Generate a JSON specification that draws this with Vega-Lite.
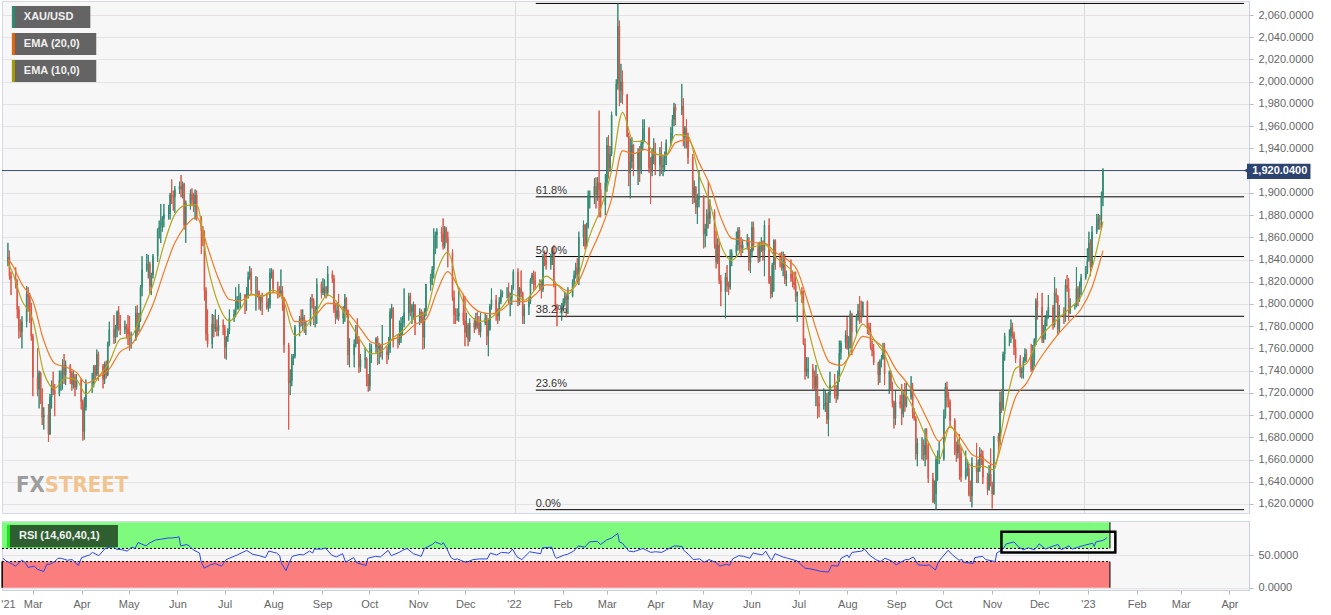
{
  "$schema": "https://vega.github.io/schema/vega-lite/v6.json",
  "padding": 0,
  "background": "#ffffff",
  "spacing": 6,
  "config": {
    "font": "Liberation Sans",
    "view": {"stroke": "#d2d8e8", "fill": "#f7f7f7"},
    "axis": {
      "labelFont": "Liberation Sans",
      "labelFontSize": 11,
      "labelColor": "#666666",
      "labelOverlap": false,
      "tickColor": "#b4bacb",
      "tickSize": 4,
      "domainColor": "#c9cfe0",
      "gridColor": "#e3e3e3"
    }
  },
  "datasets": {
    "fib": [
      {"p": 1614.9, "t": "0.0%"},
      {"p": 1722.4, "t": "23.6%"},
      {"p": 1788.9, "t": "38.2%"},
      {"p": 1842.65, "t": "50.0%"},
      {"p": 1896.4, "t": "61.8%"},
      {"p": 2070.4, "t": ""}
    ],
    "px": [
      {"d":"2021-02-10","o":1838,"h":1855,"l":1834,"c":1842},
      {"d":"2021-02-11","o":1842,"h":1848,"l":1822,"c":1825},
      {"d":"2021-02-12","o":1825,"h":1829,"l":1808,"c":1823},
      {"d":"2021-02-15","o":1823,"h":1833,"l":1814,"c":1818},
      {"d":"2021-02-16","o":1818,"h":1822,"l":1787,"c":1795},
      {"d":"2021-02-17","o":1795,"h":1798,"l":1769,"c":1776},
      {"d":"2021-02-18","o":1776,"h":1786,"l":1770,"c":1775},
      {"d":"2021-02-19","o":1775,"h":1789,"l":1760,"c":1784},
      {"d":"2021-02-22","o":1784,"h":1816,"l":1779,"c":1809},
      {"d":"2021-02-23","o":1809,"h":1815,"l":1793,"c":1806},
      {"d":"2021-02-24","o":1806,"h":1810,"l":1783,"c":1797},
      {"d":"2021-02-25","o":1797,"h":1801,"l":1767,"c":1771},
      {"d":"2021-02-26","o":1771,"h":1773,"l":1717,"c":1734},
      {"d":"2021-03-01","o":1734,"h":1760,"l":1717,"c":1723},
      {"d":"2021-03-02","o":1723,"h":1740,"l":1706,"c":1738},
      {"d":"2021-03-03","o":1738,"h":1739,"l":1710,"c":1712},
      {"d":"2021-03-04","o":1712,"h":1724,"l":1691,"c":1698},
      {"d":"2021-03-05","o":1698,"h":1707,"l":1687,"c":1700},
      {"d":"2021-03-08","o":1700,"h":1710,"l":1676,"c":1683},
      {"d":"2021-03-09","o":1683,"h":1719,"l":1682,"c":1716},
      {"d":"2021-03-10","o":1716,"h":1731,"l":1706,"c":1726},
      {"d":"2021-03-11","o":1726,"h":1739,"l":1718,"c":1722},
      {"d":"2021-03-12","o":1722,"h":1728,"l":1699,"c":1719},
      {"d":"2021-03-15","o":1719,"h":1740,"l":1717,"c":1731},
      {"d":"2021-03-16","o":1731,"h":1740,"l":1722,"c":1731},
      {"d":"2021-03-17","o":1731,"h":1750,"l":1723,"c":1745},
      {"d":"2021-03-18","o":1745,"h":1755,"l":1728,"c":1736},
      {"d":"2021-03-19","o":1736,"h":1749,"l":1727,"c":1745},
      {"d":"2021-03-22","o":1745,"h":1746,"l":1728,"c":1738},
      {"d":"2021-03-23","o":1738,"h":1740,"l":1722,"c":1727},
      {"d":"2021-03-24","o":1727,"h":1740,"l":1724,"c":1734},
      {"d":"2021-03-25","o":1734,"h":1737,"l":1717,"c":1725},
      {"d":"2021-03-26","o":1725,"h":1737,"l":1723,"c":1732},
      {"d":"2021-03-29","o":1732,"h":1733,"l":1705,"c":1712},
      {"d":"2021-03-30","o":1712,"h":1714,"l":1677,"c":1685},
      {"d":"2021-03-31","o":1685,"h":1716,"l":1678,"c":1707},
      {"d":"2021-04-01","o":1707,"h":1732,"l":1704,"c":1728},
      {"d":"2021-04-05","o":1728,"h":1738,"l":1720,"c":1728},
      {"d":"2021-04-06","o":1728,"h":1745,"l":1725,"c":1744},
      {"d":"2021-04-07","o":1744,"h":1745,"l":1732,"c":1737},
      {"d":"2021-04-08","o":1737,"h":1759,"l":1735,"c":1755},
      {"d":"2021-04-09","o":1755,"h":1757,"l":1731,"c":1744},
      {"d":"2021-04-12","o":1744,"h":1746,"l":1724,"c":1732},
      {"d":"2021-04-13","o":1732,"h":1748,"l":1728,"c":1746},
      {"d":"2021-04-14","o":1746,"h":1749,"l":1733,"c":1736},
      {"d":"2021-04-15","o":1736,"h":1766,"l":1735,"c":1764},
      {"d":"2021-04-16","o":1764,"h":1784,"l":1762,"c":1777},
      {"d":"2021-04-19","o":1777,"h":1790,"l":1764,"c":1770},
      {"d":"2021-04-20","o":1770,"h":1781,"l":1765,"c":1778},
      {"d":"2021-04-21","o":1778,"h":1794,"l":1770,"c":1793},
      {"d":"2021-04-22","o":1793,"h":1798,"l":1776,"c":1782},
      {"d":"2021-04-23","o":1782,"h":1790,"l":1772,"c":1777},
      {"d":"2021-04-26","o":1777,"h":1785,"l":1773,"c":1780},
      {"d":"2021-04-27","o":1780,"h":1782,"l":1769,"c":1778},
      {"d":"2021-04-28","o":1778,"h":1790,"l":1763,"c":1773},
      {"d":"2021-04-29","o":1773,"h":1789,"l":1758,"c":1768},
      {"d":"2021-04-30","o":1768,"h":1775,"l":1760,"c":1768},
      {"d":"2021-05-03","o":1768,"h":1798,"l":1767,"c":1792},
      {"d":"2021-05-04","o":1792,"h":1799,"l":1771,"c":1779},
      {"d":"2021-05-05","o":1779,"h":1792,"l":1775,"c":1785},
      {"d":"2021-05-06","o":1785,"h":1817,"l":1784,"c":1815},
      {"d":"2021-05-07","o":1815,"h":1843,"l":1807,"c":1831},
      {"d":"2021-05-10","o":1831,"h":1845,"l":1829,"c":1836},
      {"d":"2021-05-11","o":1836,"h":1844,"l":1823,"c":1836},
      {"d":"2021-05-12","o":1836,"h":1838,"l":1809,"c":1816},
      {"d":"2021-05-13","o":1816,"h":1828,"l":1808,"c":1826},
      {"d":"2021-05-14","o":1826,"h":1845,"l":1823,"c":1843},
      {"d":"2021-05-17","o":1843,"h":1868,"l":1838,"c":1867},
      {"d":"2021-05-18","o":1867,"h":1875,"l":1859,"c":1869},
      {"d":"2021-05-19","o":1869,"h":1890,"l":1855,"c":1869},
      {"d":"2021-05-20","o":1869,"h":1879,"l":1865,"c":1877},
      {"d":"2021-05-21","o":1877,"h":1890,"l":1869,"c":1881},
      {"d":"2021-05-24","o":1881,"h":1889,"l":1876,"c":1881},
      {"d":"2021-05-25","o":1881,"h":1900,"l":1876,"c":1898},
      {"d":"2021-05-26","o":1898,"h":1912,"l":1890,"c":1897},
      {"d":"2021-05-27","o":1897,"h":1902,"l":1884,"c":1896},
      {"d":"2021-05-28","o":1896,"h":1906,"l":1882,"c":1903},
      {"d":"2021-05-31","o":1903,"h":1910,"l":1899,"c":1906},
      {"d":"2021-06-01","o":1906,"h":1916,"l":1896,"c":1903},
      {"d":"2021-06-02","o":1903,"h":1910,"l":1895,"c":1908},
      {"d":"2021-06-03","o":1908,"h":1909,"l":1867,"c":1871},
      {"d":"2021-06-04","o":1871,"h":1893,"l":1855,"c":1891},
      {"d":"2021-06-07","o":1891,"h":1903,"l":1885,"c":1899},
      {"d":"2021-06-08","o":1899,"h":1904,"l":1888,"c":1893},
      {"d":"2021-06-09","o":1893,"h":1900,"l":1883,"c":1888},
      {"d":"2021-06-10","o":1888,"h":1903,"l":1876,"c":1898},
      {"d":"2021-06-11","o":1898,"h":1902,"l":1875,"c":1877},
      {"d":"2021-06-14","o":1877,"h":1879,"l":1845,"c":1866},
      {"d":"2021-06-15","o":1866,"h":1870,"l":1852,"c":1859},
      {"d":"2021-06-16","o":1859,"h":1866,"l":1803,"c":1812},
      {"d":"2021-06-17","o":1812,"h":1815,"l":1767,"c":1773},
      {"d":"2021-06-18","o":1773,"h":1795,"l":1761,"c":1764},
      {"d":"2021-06-21","o":1764,"h":1791,"l":1760,"c":1782},
      {"d":"2021-06-22","o":1782,"h":1790,"l":1770,"c":1778},
      {"d":"2021-06-23","o":1778,"h":1795,"l":1775,"c":1779},
      {"d":"2021-06-24","o":1779,"h":1786,"l":1771,"c":1776},
      {"d":"2021-06-25","o":1776,"h":1790,"l":1771,"c":1781},
      {"d":"2021-06-28","o":1781,"h":1786,"l":1772,"c":1779},
      {"d":"2021-06-29","o":1779,"h":1781,"l":1751,"c":1761},
      {"d":"2021-06-30","o":1761,"h":1771,"l":1750,"c":1770},
      {"d":"2021-07-01","o":1770,"h":1778,"l":1766,"c":1776},
      {"d":"2021-07-02","o":1776,"h":1795,"l":1773,"c":1787},
      {"d":"2021-07-05","o":1787,"h":1795,"l":1784,"c":1791},
      {"d":"2021-07-06","o":1791,"h":1815,"l":1788,"c":1796},
      {"d":"2021-07-07","o":1796,"h":1807,"l":1795,"c":1803},
      {"d":"2021-07-08","o":1803,"h":1818,"l":1795,"c":1803},
      {"d":"2021-07-09","o":1803,"h":1810,"l":1796,"c":1808},
      {"d":"2021-07-12","o":1808,"h":1809,"l":1791,"c":1805},
      {"d":"2021-07-13","o":1805,"h":1815,"l":1794,"c":1808},
      {"d":"2021-07-14","o":1808,"h":1829,"l":1805,"c":1824},
      {"d":"2021-07-15","o":1824,"h":1834,"l":1822,"c":1829},
      {"d":"2021-07-16","o":1829,"h":1832,"l":1809,"c":1812},
      {"d":"2021-07-19","o":1812,"h":1825,"l":1794,"c":1812},
      {"d":"2021-07-20","o":1812,"h":1824,"l":1806,"c":1810},
      {"d":"2021-07-21","o":1810,"h":1812,"l":1795,"c":1803},
      {"d":"2021-07-22","o":1803,"h":1808,"l":1794,"c":1806},
      {"d":"2021-07-23","o":1806,"h":1810,"l":1790,"c":1802},
      {"d":"2021-07-26","o":1802,"h":1810,"l":1795,"c":1797},
      {"d":"2021-07-27","o":1797,"h":1805,"l":1793,"c":1799},
      {"d":"2021-07-28","o":1799,"h":1832,"l":1796,"c":1828},
      {"d":"2021-07-29","o":1828,"h":1832,"l":1823,"c":1829},
      {"d":"2021-07-30","o":1829,"h":1831,"l":1810,"c":1814},
      {"d":"2021-08-02","o":1814,"h":1820,"l":1805,"c":1813},
      {"d":"2021-08-03","o":1813,"h":1816,"l":1806,"c":1810},
      {"d":"2021-08-04","o":1810,"h":1831,"l":1808,"c":1812},
      {"d":"2021-08-05","o":1812,"h":1816,"l":1794,"c":1804},
      {"d":"2021-08-06","o":1804,"h":1806,"l":1756,"c":1763},
      {"d":"2021-08-09","o":1763,"h":1765,"l":1687,"c":1729},
      {"d":"2021-08-10","o":1729,"h":1741,"l":1718,"c":1731},
      {"d":"2021-08-11","o":1731,"h":1755,"l":1726,"c":1752},
      {"d":"2021-08-12","o":1752,"h":1755,"l":1745,"c":1753},
      {"d":"2021-08-13","o":1753,"h":1781,"l":1751,"c":1779},
      {"d":"2021-08-16","o":1779,"h":1789,"l":1771,"c":1787},
      {"d":"2021-08-17","o":1787,"h":1795,"l":1780,"c":1786},
      {"d":"2021-08-18","o":1786,"h":1795,"l":1777,"c":1788},
      {"d":"2021-08-19","o":1788,"h":1790,"l":1774,"c":1781},
      {"d":"2021-08-20","o":1781,"h":1785,"l":1772,"c":1781},
      {"d":"2021-08-23","o":1781,"h":1806,"l":1780,"c":1805},
      {"d":"2021-08-24","o":1805,"h":1809,"l":1796,"c":1803},
      {"d":"2021-08-25","o":1803,"h":1805,"l":1781,"c":1790},
      {"d":"2021-08-26","o":1790,"h":1798,"l":1779,"c":1792},
      {"d":"2021-08-27","o":1792,"h":1823,"l":1782,"c":1818},
      {"d":"2021-08-30","o":1818,"h":1820,"l":1805,"c":1810},
      {"d":"2021-08-31","o":1810,"h":1823,"l":1808,"c":1814},
      {"d":"2021-09-01","o":1814,"h":1822,"l":1806,"c":1815},
      {"d":"2021-09-02","o":1815,"h":1816,"l":1805,"c":1810},
      {"d":"2021-09-03","o":1810,"h":1834,"l":1807,"c":1827},
      {"d":"2021-09-06","o":1827,"h":1830,"l":1819,"c":1823},
      {"d":"2021-09-07","o":1823,"h":1826,"l":1792,"c":1795},
      {"d":"2021-09-08","o":1795,"h":1801,"l":1782,"c":1788},
      {"d":"2021-09-09","o":1788,"h":1801,"l":1786,"c":1794},
      {"d":"2021-09-10","o":1794,"h":1809,"l":1785,"c":1787},
      {"d":"2021-09-13","o":1787,"h":1798,"l":1782,"c":1794},
      {"d":"2021-09-14","o":1794,"h":1809,"l":1784,"c":1805},
      {"d":"2021-09-15","o":1805,"h":1806,"l":1790,"c":1794},
      {"d":"2021-09-16","o":1794,"h":1795,"l":1745,"c":1754},
      {"d":"2021-09-17","o":1754,"h":1769,"l":1743,"c":1754},
      {"d":"2021-09-20","o":1754,"h":1768,"l":1743,"c":1764},
      {"d":"2021-09-21","o":1764,"h":1781,"l":1761,"c":1774},
      {"d":"2021-09-22","o":1774,"h":1787,"l":1764,"c":1768},
      {"d":"2021-09-23","o":1768,"h":1771,"l":1738,"c":1743},
      {"d":"2021-09-24","o":1743,"h":1755,"l":1739,"c":1750},
      {"d":"2021-09-27","o":1750,"h":1761,"l":1742,"c":1751},
      {"d":"2021-09-28","o":1751,"h":1752,"l":1726,"c":1734},
      {"d":"2021-09-29","o":1734,"h":1737,"l":1721,"c":1726},
      {"d":"2021-09-30","o":1726,"h":1765,"l":1722,"c":1757},
      {"d":"2021-10-01","o":1757,"h":1764,"l":1747,"c":1761},
      {"d":"2021-10-04","o":1761,"h":1770,"l":1756,"c":1769},
      {"d":"2021-10-05","o":1769,"h":1771,"l":1745,"c":1760},
      {"d":"2021-10-06","o":1760,"h":1765,"l":1746,"c":1762},
      {"d":"2021-10-07","o":1762,"h":1764,"l":1752,"c":1756},
      {"d":"2021-10-08","o":1756,"h":1781,"l":1750,"c":1757},
      {"d":"2021-10-11","o":1757,"h":1762,"l":1746,"c":1754},
      {"d":"2021-10-12","o":1754,"h":1770,"l":1750,"c":1760},
      {"d":"2021-10-13","o":1760,"h":1796,"l":1756,"c":1793},
      {"d":"2021-10-14","o":1793,"h":1800,"l":1787,"c":1796},
      {"d":"2021-10-15","o":1796,"h":1797,"l":1761,"c":1767},
      {"d":"2021-10-18","o":1767,"h":1773,"l":1760,"c":1765},
      {"d":"2021-10-19","o":1765,"h":1785,"l":1763,"c":1769},
      {"d":"2021-10-20","o":1769,"h":1788,"l":1765,"c":1783},
      {"d":"2021-10-21","o":1783,"h":1789,"l":1772,"c":1783},
      {"d":"2021-10-22","o":1783,"h":1814,"l":1779,"c":1792},
      {"d":"2021-10-25","o":1792,"h":1810,"l":1785,"c":1807},
      {"d":"2021-10-26","o":1807,"h":1810,"l":1789,"c":1793},
      {"d":"2021-10-27","o":1793,"h":1800,"l":1782,"c":1798},
      {"d":"2021-10-28","o":1798,"h":1802,"l":1786,"c":1799},
      {"d":"2021-10-29","o":1799,"h":1800,"l":1772,"c":1783},
      {"d":"2021-11-01","o":1783,"h":1796,"l":1781,"c":1793},
      {"d":"2021-11-02","o":1793,"h":1795,"l":1783,"c":1787},
      {"d":"2021-11-03","o":1787,"h":1793,"l":1759,"c":1770},
      {"d":"2021-11-04","o":1770,"h":1796,"l":1760,"c":1792},
      {"d":"2021-11-05","o":1792,"h":1818,"l":1789,"c":1818},
      {"d":"2021-11-08","o":1818,"h":1827,"l":1812,"c":1824},
      {"d":"2021-11-09","o":1824,"h":1834,"l":1817,"c":1831},
      {"d":"2021-11-10","o":1831,"h":1868,"l":1823,"c":1849},
      {"d":"2021-11-11","o":1849,"h":1865,"l":1845,"c":1862},
      {"d":"2021-11-12","o":1862,"h":1868,"l":1850,"c":1865},
      {"d":"2021-11-15","o":1865,"h":1869,"l":1856,"c":1863},
      {"d":"2021-11-16","o":1863,"h":1877,"l":1849,"c":1852},
      {"d":"2021-11-17","o":1852,"h":1870,"l":1850,"c":1868},
      {"d":"2021-11-18","o":1868,"h":1869,"l":1855,"c":1860},
      {"d":"2021-11-19","o":1860,"h":1865,"l":1833,"c":1846},
      {"d":"2021-11-22","o":1846,"h":1849,"l":1803,"c":1806},
      {"d":"2021-11-23","o":1806,"h":1812,"l":1782,"c":1790},
      {"d":"2021-11-24","o":1790,"h":1796,"l":1782,"c":1789},
      {"d":"2021-11-25","o":1789,"h":1796,"l":1785,"c":1789},
      {"d":"2021-11-26","o":1789,"h":1815,"l":1784,"c":1792},
      {"d":"2021-11-29","o":1792,"h":1809,"l":1781,"c":1785},
      {"d":"2021-11-30","o":1785,"h":1807,"l":1762,"c":1774},
      {"d":"2021-12-01","o":1774,"h":1792,"l":1770,"c":1781},
      {"d":"2021-12-02","o":1781,"h":1783,"l":1762,"c":1768},
      {"d":"2021-12-03","o":1768,"h":1787,"l":1766,"c":1783},
      {"d":"2021-12-06","o":1783,"h":1787,"l":1774,"c":1779},
      {"d":"2021-12-07","o":1779,"h":1792,"l":1777,"c":1785},
      {"d":"2021-12-08","o":1785,"h":1793,"l":1778,"c":1783},
      {"d":"2021-12-09","o":1783,"h":1789,"l":1772,"c":1775},
      {"d":"2021-12-10","o":1775,"h":1792,"l":1770,"c":1783},
      {"d":"2021-12-13","o":1783,"h":1792,"l":1781,"c":1787},
      {"d":"2021-12-14","o":1787,"h":1790,"l":1763,"c":1771},
      {"d":"2021-12-15","o":1771,"h":1787,"l":1753,"c":1777},
      {"d":"2021-12-16","o":1777,"h":1800,"l":1776,"c":1798},
      {"d":"2021-12-17","o":1798,"h":1814,"l":1795,"c":1804},
      {"d":"2021-12-20","o":1804,"h":1808,"l":1785,"c":1791},
      {"d":"2021-12-21","o":1791,"h":1796,"l":1782,"c":1789},
      {"d":"2021-12-22","o":1789,"h":1806,"l":1785,"c":1802},
      {"d":"2021-12-23","o":1802,"h":1813,"l":1800,"c":1809},
      {"d":"2021-12-24","o":1809,"h":1812,"l":1806,"c":1811},
      {"d":"2021-12-27","o":1811,"h":1815,"l":1805,"c":1811},
      {"d":"2021-12-28","o":1811,"h":1819,"l":1800,"c":1805},
      {"d":"2021-12-29","o":1805,"h":1810,"l":1789,"c":1805},
      {"d":"2021-12-30","o":1805,"h":1817,"l":1799,"c":1815},
      {"d":"2021-12-31","o":1815,"h":1831,"l":1813,"c":1829},
      {"d":"2022-01-03","o":1829,"h":1832,"l":1798,"c":1801},
      {"d":"2022-01-04","o":1801,"h":1815,"l":1799,"c":1814},
      {"d":"2022-01-05","o":1814,"h":1830,"l":1806,"c":1810},
      {"d":"2022-01-06","o":1810,"h":1811,"l":1782,"c":1789},
      {"d":"2022-01-07","o":1789,"h":1800,"l":1782,"c":1797},
      {"d":"2022-01-10","o":1797,"h":1806,"l":1790,"c":1802},
      {"d":"2022-01-11","o":1802,"h":1823,"l":1800,"c":1822},
      {"d":"2022-01-12","o":1822,"h":1828,"l":1818,"c":1826},
      {"d":"2022-01-13","o":1826,"h":1830,"l":1812,"c":1821},
      {"d":"2022-01-14","o":1821,"h":1829,"l":1813,"c":1817},
      {"d":"2022-01-17","o":1817,"h":1822,"l":1812,"c":1818},
      {"d":"2022-01-18","o":1818,"h":1821,"l":1805,"c":1813},
      {"d":"2022-01-19","o":1813,"h":1845,"l":1811,"c":1843},
      {"d":"2022-01-20","o":1843,"h":1848,"l":1834,"c":1840},
      {"d":"2022-01-21","o":1840,"h":1847,"l":1831,"c":1835},
      {"d":"2022-01-24","o":1835,"h":1845,"l":1831,"c":1843},
      {"d":"2022-01-25","o":1843,"h":1851,"l":1835,"c":1848},
      {"d":"2022-01-26","o":1848,"h":1853,"l":1815,"c":1819},
      {"d":"2022-01-27","o":1819,"h":1820,"l":1794,"c":1797},
      {"d":"2022-01-28","o":1797,"h":1800,"l":1780,"c":1791},
      {"d":"2022-01-31","o":1791,"h":1801,"l":1785,"c":1797},
      {"d":"2022-02-01","o":1797,"h":1805,"l":1794,"c":1801},
      {"d":"2022-02-02","o":1801,"h":1811,"l":1799,"c":1807},
      {"d":"2022-02-03","o":1807,"h":1810,"l":1788,"c":1804},
      {"d":"2022-02-04","o":1804,"h":1815,"l":1791,"c":1807},
      {"d":"2022-02-07","o":1807,"h":1822,"l":1806,"c":1820},
      {"d":"2022-02-08","o":1820,"h":1830,"l":1816,"c":1826},
      {"d":"2022-02-09","o":1826,"h":1837,"l":1823,"c":1833},
      {"d":"2022-02-10","o":1833,"h":1841,"l":1819,"c":1827},
      {"d":"2022-02-11","o":1827,"h":1865,"l":1817,"c":1860},
      {"d":"2022-02-14","o":1860,"h":1875,"l":1852,"c":1871},
      {"d":"2022-02-15","o":1871,"h":1872,"l":1849,"c":1852},
      {"d":"2022-02-16","o":1852,"h":1873,"l":1851,"c":1870},
      {"d":"2022-02-17","o":1870,"h":1902,"l":1868,"c":1898},
      {"d":"2022-02-18","o":1898,"h":1902,"l":1886,"c":1898},
      {"d":"2022-02-21","o":1898,"h":1913,"l":1890,"c":1906},
      {"d":"2022-02-22","o":1906,"h":1914,"l":1886,"c":1898},
      {"d":"2022-02-23","o":1898,"h":1914,"l":1893,"c":1909},
      {"d":"2022-02-24","o":1909,"h":1974,"l":1878,"c":1903},
      {"d":"2022-02-25","o":1903,"h":1909,"l":1878,"c":1889},
      {"d":"2022-02-28","o":1889,"h":1917,"l":1880,"c":1909},
      {"d":"2022-03-01","o":1909,"h":1950,"l":1901,"c":1943},
      {"d":"2022-03-02","o":1943,"h":1952,"l":1913,"c":1922},
      {"d":"2022-03-03","o":1922,"h":1942,"l":1919,"c":1935},
      {"d":"2022-03-04","o":1935,"h":1973,"l":1933,"c":1970},
      {"d":"2022-03-07","o":1970,"h":2002,"l":1969,"c":1998},
      {"d":"2022-03-08","o":1998,"h":2070.4,"l":1993,"c":2050},
      {"d":"2022-03-09","o":2050,"h":2055,"l":1978,"c":1992},
      {"d":"2022-03-10","o":1992,"h":2016,"l":1981,"c":2000},
      {"d":"2022-03-11","o":2000,"h":2010,"l":1980,"c":1988},
      {"d":"2022-03-14","o":1988,"h":1989,"l":1950,"c":1951},
      {"d":"2022-03-15","o":1951,"h":1954,"l":1906,"c":1918},
      {"d":"2022-03-16","o":1918,"h":1949,"l":1895,"c":1928},
      {"d":"2022-03-17","o":1928,"h":1950,"l":1922,"c":1943},
      {"d":"2022-03-18","o":1943,"h":1944,"l":1915,"c":1921},
      {"d":"2022-03-21","o":1921,"h":1940,"l":1907,"c":1936},
      {"d":"2022-03-22","o":1936,"h":1942,"l":1910,"c":1921},
      {"d":"2022-03-23","o":1921,"h":1947,"l":1917,"c":1944},
      {"d":"2022-03-24","o":1944,"h":1966,"l":1938,"c":1958},
      {"d":"2022-03-25","o":1958,"h":1966,"l":1946,"c":1958},
      {"d":"2022-03-28","o":1958,"h":1959,"l":1918,"c":1922},
      {"d":"2022-03-29","o":1922,"h":1932,"l":1890,"c":1919},
      {"d":"2022-03-30","o":1919,"h":1940,"l":1915,"c":1933},
      {"d":"2022-03-31","o":1933,"h":1949,"l":1926,"c":1937},
      {"d":"2022-04-01","o":1937,"h":1945,"l":1916,"c":1925},
      {"d":"2022-04-04","o":1925,"h":1941,"l":1915,"c":1933},
      {"d":"2022-04-05","o":1933,"h":1946,"l":1917,"c":1923},
      {"d":"2022-04-06","o":1923,"h":1933,"l":1915,"c":1925},
      {"d":"2022-04-07","o":1925,"h":1937,"l":1919,"c":1931},
      {"d":"2022-04-08","o":1931,"h":1948,"l":1925,"c":1945},
      {"d":"2022-04-11","o":1945,"h":1959,"l":1942,"c":1954},
      {"d":"2022-04-12","o":1954,"h":1970,"l":1948,"c":1966},
      {"d":"2022-04-13","o":1966,"h":1981,"l":1960,"c":1977},
      {"d":"2022-04-14","o":1977,"h":1980,"l":1961,"c":1974},
      {"d":"2022-04-18","o":1974,"h":1998,"l":1970,"c":1978},
      {"d":"2022-04-19","o":1978,"h":1985,"l":1942,"c":1950},
      {"d":"2022-04-20","o":1950,"h":1960,"l":1940,"c":1958},
      {"d":"2022-04-21","o":1958,"h":1966,"l":1940,"c":1951},
      {"d":"2022-04-22","o":1951,"h":1954,"l":1926,"c":1932},
      {"d":"2022-04-25","o":1932,"h":1935,"l":1890,"c":1898},
      {"d":"2022-04-26","o":1898,"h":1911,"l":1891,"c":1905},
      {"d":"2022-04-27","o":1905,"h":1906,"l":1881,"c":1887},
      {"d":"2022-04-28","o":1887,"h":1899,"l":1872,"c":1894},
      {"d":"2022-04-29","o":1894,"h":1920,"l":1887,"c":1897},
      {"d":"2022-05-02","o":1897,"h":1898,"l":1850,"c":1863},
      {"d":"2022-05-03","o":1863,"h":1872,"l":1851,"c":1868},
      {"d":"2022-05-04","o":1868,"h":1885,"l":1861,"c":1881},
      {"d":"2022-05-05","o":1881,"h":1910,"l":1868,"c":1877},
      {"d":"2022-05-06","o":1877,"h":1894,"l":1872,"c":1883},
      {"d":"2022-05-09","o":1883,"h":1885,"l":1850,"c":1854},
      {"d":"2022-05-10","o":1854,"h":1866,"l":1832,"c":1838},
      {"d":"2022-05-11","o":1838,"h":1859,"l":1836,"c":1853},
      {"d":"2022-05-12","o":1853,"h":1858,"l":1818,"c":1821},
      {"d":"2022-05-13","o":1821,"h":1826,"l":1798,"c":1811},
      {"d":"2022-05-16","o":1811,"h":1828,"l":1787,"c":1824},
      {"d":"2022-05-17","o":1824,"h":1835,"l":1811,"c":1816},
      {"d":"2022-05-18","o":1816,"h":1820,"l":1808,"c":1815},
      {"d":"2022-05-19","o":1815,"h":1849,"l":1813,"c":1841},
      {"d":"2022-05-20","o":1841,"h":1849,"l":1834,"c":1846},
      {"d":"2022-05-23","o":1846,"h":1865,"l":1843,"c":1853},
      {"d":"2022-05-24","o":1853,"h":1869,"l":1848,"c":1866},
      {"d":"2022-05-25","o":1866,"h":1869,"l":1846,"c":1853},
      {"d":"2022-05-26","o":1853,"h":1860,"l":1843,"c":1850},
      {"d":"2022-05-27","o":1850,"h":1858,"l":1846,"c":1853},
      {"d":"2022-05-30","o":1853,"h":1863,"l":1849,"c":1856},
      {"d":"2022-05-31","o":1856,"h":1860,"l":1830,"c":1837},
      {"d":"2022-06-01","o":1837,"h":1849,"l":1828,"c":1847},
      {"d":"2022-06-02","o":1847,"h":1874,"l":1842,"c":1869},
      {"d":"2022-06-03","o":1869,"h":1874,"l":1848,"c":1851},
      {"d":"2022-06-06","o":1851,"h":1855,"l":1837,"c":1841},
      {"d":"2022-06-07","o":1841,"h":1856,"l":1838,"c":1852},
      {"d":"2022-06-08","o":1852,"h":1860,"l":1847,"c":1853},
      {"d":"2022-06-09","o":1853,"h":1857,"l":1839,"c":1848},
      {"d":"2022-06-10","o":1848,"h":1875,"l":1825,"c":1871},
      {"d":"2022-06-13","o":1871,"h":1877,"l":1818,"c":1819},
      {"d":"2022-06-14","o":1819,"h":1825,"l":1805,"c":1809},
      {"d":"2022-06-15","o":1809,"h":1837,"l":1806,"c":1835},
      {"d":"2022-06-16","o":1835,"h":1858,"l":1811,"c":1857},
      {"d":"2022-06-17","o":1857,"h":1858,"l":1831,"c":1840},
      {"d":"2022-06-20","o":1840,"h":1846,"l":1833,"c":1839},
      {"d":"2022-06-21","o":1839,"h":1847,"l":1830,"c":1832},
      {"d":"2022-06-22","o":1832,"h":1847,"l":1825,"c":1838},
      {"d":"2022-06-23","o":1838,"h":1845,"l":1818,"c":1822},
      {"d":"2022-06-24","o":1822,"h":1830,"l":1816,"c":1827},
      {"d":"2022-06-27","o":1827,"h":1840,"l":1820,"c":1823},
      {"d":"2022-06-28","o":1823,"h":1830,"l":1815,"c":1820},
      {"d":"2022-06-29","o":1820,"h":1829,"l":1813,"c":1817},
      {"d":"2022-06-30","o":1817,"h":1829,"l":1802,"c":1807},
      {"d":"2022-07-01","o":1807,"h":1811,"l":1784,"c":1811},
      {"d":"2022-07-04","o":1811,"h":1815,"l":1801,"c":1808},
      {"d":"2022-07-05","o":1808,"h":1812,"l":1763,"c":1764},
      {"d":"2022-07-06","o":1764,"h":1769,"l":1732,"c":1739},
      {"d":"2022-07-07","o":1739,"h":1752,"l":1735,"c":1740},
      {"d":"2022-07-08","o":1740,"h":1752,"l":1733,"c":1742},
      {"d":"2022-07-11","o":1742,"h":1746,"l":1723,"c":1734},
      {"d":"2022-07-12","o":1734,"h":1740,"l":1722,"c":1725},
      {"d":"2022-07-13","o":1725,"h":1745,"l":1708,"c":1735},
      {"d":"2022-07-14","o":1735,"h":1737,"l":1697,"c":1711},
      {"d":"2022-07-15","o":1711,"h":1717,"l":1698,"c":1708},
      {"d":"2022-07-18","o":1708,"h":1724,"l":1705,"c":1709},
      {"d":"2022-07-19","o":1709,"h":1722,"l":1703,"c":1711},
      {"d":"2022-07-20","o":1711,"h":1720,"l":1692,"c":1696},
      {"d":"2022-07-21","o":1696,"h":1721,"l":1681,"c":1718},
      {"d":"2022-07-22","o":1718,"h":1739,"l":1711,"c":1727},
      {"d":"2022-07-25","o":1727,"h":1737,"l":1715,"c":1719},
      {"d":"2022-07-26","o":1719,"h":1727,"l":1711,"c":1717},
      {"d":"2022-07-27","o":1717,"h":1740,"l":1714,"c":1734},
      {"d":"2022-07-28","o":1734,"h":1767,"l":1730,"c":1756},
      {"d":"2022-07-29","o":1756,"h":1767,"l":1750,"c":1765},
      {"d":"2022-08-01","o":1765,"h":1776,"l":1760,"c":1772},
      {"d":"2022-08-02","o":1772,"h":1788,"l":1759,"c":1760},
      {"d":"2022-08-03","o":1760,"h":1771,"l":1753,"c":1765},
      {"d":"2022-08-04","o":1765,"h":1794,"l":1760,"c":1791},
      {"d":"2022-08-05","o":1791,"h":1792,"l":1754,"c":1775},
      {"d":"2022-08-08","o":1775,"h":1791,"l":1772,"c":1789},
      {"d":"2022-08-09","o":1789,"h":1800,"l":1785,"c":1794},
      {"d":"2022-08-10","o":1794,"h":1807,"l":1782,"c":1792},
      {"d":"2022-08-11","o":1792,"h":1803,"l":1783,"c":1789},
      {"d":"2022-08-12","o":1789,"h":1802,"l":1788,"c":1802},
      {"d":"2022-08-15","o":1802,"h":1803,"l":1773,"c":1779},
      {"d":"2022-08-16","o":1779,"h":1783,"l":1772,"c":1776},
      {"d":"2022-08-17","o":1776,"h":1783,"l":1759,"c":1761},
      {"d":"2022-08-18","o":1761,"h":1767,"l":1753,"c":1758},
      {"d":"2022-08-19","o":1758,"h":1764,"l":1745,"c":1747},
      {"d":"2022-08-22","o":1747,"h":1748,"l":1727,"c":1736},
      {"d":"2022-08-23","o":1736,"h":1750,"l":1729,"c":1749},
      {"d":"2022-08-24","o":1749,"h":1754,"l":1743,"c":1751},
      {"d":"2022-08-25","o":1751,"h":1765,"l":1750,"c":1758},
      {"d":"2022-08-26","o":1758,"h":1765,"l":1727,"c":1737},
      {"d":"2022-08-29","o":1737,"h":1740,"l":1719,"c":1738},
      {"d":"2022-08-30","o":1738,"h":1740,"l":1722,"c":1724},
      {"d":"2022-08-31","o":1724,"h":1730,"l":1707,"c":1711},
      {"d":"2022-09-01","o":1711,"h":1713,"l":1688,"c":1697},
      {"d":"2022-09-02","o":1697,"h":1722,"l":1691,"c":1712},
      {"d":"2022-09-05","o":1712,"h":1718,"l":1706,"c":1710},
      {"d":"2022-09-06","o":1710,"h":1728,"l":1691,"c":1701},
      {"d":"2022-09-07","o":1701,"h":1721,"l":1698,"c":1718},
      {"d":"2022-09-08","o":1718,"h":1729,"l":1703,"c":1708},
      {"d":"2022-09-09","o":1708,"h":1730,"l":1707,"c":1716},
      {"d":"2022-09-12","o":1716,"h":1735,"l":1714,"c":1724},
      {"d":"2022-09-13","o":1724,"h":1729,"l":1697,"c":1702},
      {"d":"2022-09-14","o":1702,"h":1706,"l":1695,"c":1697},
      {"d":"2022-09-15","o":1697,"h":1699,"l":1660,"c":1665},
      {"d":"2022-09-16","o":1665,"h":1679,"l":1654,"c":1675},
      {"d":"2022-09-19","o":1675,"h":1680,"l":1660,"c":1675},
      {"d":"2022-09-20","o":1675,"h":1678,"l":1659,"c":1664},
      {"d":"2022-09-21","o":1664,"h":1688,"l":1654,"c":1673},
      {"d":"2022-09-22","o":1673,"h":1688,"l":1660,"c":1671},
      {"d":"2022-09-23","o":1671,"h":1675,"l":1639,"c":1643},
      {"d":"2022-09-26","o":1643,"h":1648,"l":1621,"c":1622},
      {"d":"2022-09-27","o":1622,"h":1641,"l":1620,"c":1629},
      {"d":"2022-09-28","o":1629,"h":1663,"l":1614.9,"c":1660},
      {"d":"2022-09-29","o":1660,"h":1668,"l":1641,"c":1661},
      {"d":"2022-09-30","o":1661,"h":1676,"l":1656,"c":1661},
      {"d":"2022-10-03","o":1661,"h":1705,"l":1659,"c":1699},
      {"d":"2022-10-04","o":1699,"h":1729,"l":1697,"c":1725},
      {"d":"2022-10-05","o":1725,"h":1730,"l":1707,"c":1716},
      {"d":"2022-10-06","o":1716,"h":1721,"l":1707,"c":1712},
      {"d":"2022-10-07","o":1712,"h":1714,"l":1690,"c":1695},
      {"d":"2022-10-10","o":1695,"h":1697,"l":1664,"c":1668},
      {"d":"2022-10-11","o":1668,"h":1676,"l":1658,"c":1666},
      {"d":"2022-10-12","o":1666,"h":1678,"l":1661,"c":1673},
      {"d":"2022-10-13","o":1673,"h":1683,"l":1642,"c":1666},
      {"d":"2022-10-14","o":1666,"h":1671,"l":1640,"c":1644},
      {"d":"2022-10-17","o":1644,"h":1668,"l":1642,"c":1650},
      {"d":"2022-10-18","o":1650,"h":1660,"l":1645,"c":1652},
      {"d":"2022-10-19","o":1652,"h":1656,"l":1627,"c":1629},
      {"d":"2022-10-20","o":1629,"h":1641,"l":1622,"c":1627},
      {"d":"2022-10-21","o":1627,"h":1662,"l":1617,"c":1657},
      {"d":"2022-10-24","o":1657,"h":1675,"l":1639,"c":1649},
      {"d":"2022-10-25","o":1649,"h":1660,"l":1639,"c":1652},
      {"d":"2022-10-26","o":1652,"h":1671,"l":1649,"c":1665},
      {"d":"2022-10-27","o":1665,"h":1669,"l":1655,"c":1663},
      {"d":"2022-10-28","o":1663,"h":1668,"l":1638,"c":1644},
      {"d":"2022-10-31","o":1644,"h":1648,"l":1628,"c":1633},
      {"d":"2022-11-01","o":1633,"h":1655,"l":1632,"c":1647},
      {"d":"2022-11-02","o":1647,"h":1670,"l":1636,"c":1636},
      {"d":"2022-11-03","o":1636,"h":1640,"l":1616,"c":1629},
      {"d":"2022-11-04","o":1629,"h":1681,"l":1628,"c":1681},
      {"d":"2022-11-07","o":1681,"h":1684,"l":1668,"c":1676},
      {"d":"2022-11-08","o":1676,"h":1721,"l":1673,"c":1712},
      {"d":"2022-11-09","o":1712,"h":1723,"l":1702,"c":1706},
      {"d":"2022-11-10","o":1706,"h":1757,"l":1704,"c":1755},
      {"d":"2022-11-11","o":1755,"h":1774,"l":1749,"c":1771},
      {"d":"2022-11-14","o":1771,"h":1777,"l":1762,"c":1771},
      {"d":"2022-11-15","o":1771,"h":1786,"l":1765,"c":1779},
      {"d":"2022-11-16","o":1779,"h":1783,"l":1769,"c":1773},
      {"d":"2022-11-17","o":1773,"h":1775,"l":1754,"c":1761},
      {"d":"2022-11-18","o":1761,"h":1768,"l":1747,"c":1751},
      {"d":"2022-11-21","o":1751,"h":1754,"l":1734,"c":1738},
      {"d":"2022-11-22","o":1738,"h":1743,"l":1733,"c":1740},
      {"d":"2022-11-23","o":1740,"h":1752,"l":1733,"c":1749},
      {"d":"2022-11-24","o":1749,"h":1760,"l":1747,"c":1755},
      {"d":"2022-11-25","o":1755,"h":1759,"l":1748,"c":1754},
      {"d":"2022-11-28","o":1754,"h":1764,"l":1739,"c":1741},
      {"d":"2022-11-29","o":1741,"h":1763,"l":1740,"c":1749},
      {"d":"2022-11-30","o":1749,"h":1769,"l":1744,"c":1768},
      {"d":"2022-12-01","o":1768,"h":1805,"l":1763,"c":1803},
      {"d":"2022-12-02","o":1803,"h":1810,"l":1786,"c":1797},
      {"d":"2022-12-05","o":1797,"h":1810,"l":1765,"c":1768},
      {"d":"2022-12-06","o":1768,"h":1781,"l":1765,"c":1771},
      {"d":"2022-12-07","o":1771,"h":1790,"l":1768,"c":1786},
      {"d":"2022-12-08","o":1786,"h":1794,"l":1780,"c":1789},
      {"d":"2022-12-09","o":1789,"h":1808,"l":1787,"c":1797},
      {"d":"2022-12-12","o":1797,"h":1799,"l":1777,"c":1781},
      {"d":"2022-12-13","o":1781,"h":1824,"l":1779,"c":1810},
      {"d":"2022-12-14","o":1810,"h":1814,"l":1801,"c":1807},
      {"d":"2022-12-15","o":1807,"h":1808,"l":1772,"c":1777},
      {"d":"2022-12-16","o":1777,"h":1799,"l":1774,"c":1793},
      {"d":"2022-12-19","o":1793,"h":1797,"l":1782,"c":1788},
      {"d":"2022-12-20","o":1788,"h":1822,"l":1784,"c":1817},
      {"d":"2022-12-21","o":1817,"h":1826,"l":1811,"c":1814},
      {"d":"2022-12-22","o":1814,"h":1823,"l":1785,"c":1792},
      {"d":"2022-12-23","o":1792,"h":1805,"l":1791,"c":1798},
      {"d":"2022-12-26","o":1798,"h":1800,"l":1795,"c":1798},
      {"d":"2022-12-27","o":1798,"h":1833,"l":1797,"c":1814},
      {"d":"2022-12-28","o":1814,"h":1816,"l":1798,"c":1804},
      {"d":"2022-12-29","o":1804,"h":1820,"l":1802,"c":1815},
      {"d":"2022-12-30","o":1815,"h":1827,"l":1808,"c":1824},
      {"d":"2023-01-02","o":1824,"h":1834,"l":1822,"c":1828},
      {"d":"2023-01-03","o":1828,"h":1850,"l":1827,"c":1839},
      {"d":"2023-01-04","o":1839,"h":1865,"l":1838,"c":1855},
      {"d":"2023-01-05","o":1855,"h":1858,"l":1825,"c":1833},
      {"d":"2023-01-06","o":1833,"h":1870,"l":1833,"c":1865},
      {"d":"2023-01-09","o":1865,"h":1881,"l":1863,"c":1872},
      {"d":"2023-01-10","o":1872,"h":1881,"l":1867,"c":1877},
      {"d":"2023-01-11","o":1877,"h":1880,"l":1867,"c":1876},
      {"d":"2023-01-12","o":1876,"h":1901,"l":1867,"c":1896},
      {"d":"2023-01-13","o":1896,"h":1922,"l":1888,"c":1920.04}
    ],
    "ema": [
      {"d":"2021-02-10","a":1836,"b":1840},
      {"d":"2021-02-12","a":1831.5,"b":1836.9},
      {"d":"2021-02-19","a":1803,"b":1817.6},
      {"d":"2021-02-26","a":1785.8,"b":1802.7},
      {"d":"2021-03-05","a":1738.3,"b":1767.1},
      {"d":"2021-03-12","a":1724.1,"b":1746.5},
      {"d":"2021-03-19","a":1733.4,"b":1743.3},
      {"d":"2021-03-26","a":1731.6,"b":1738.4},
      {"d":"2021-04-01","a":1718.8,"b":1728.7},
      {"d":"2021-04-09","a":1734.2,"b":1734.1},
      {"d":"2021-04-16","a":1747.5,"b":1741.6},
      {"d":"2021-04-23","a":1768.4,"b":1756.8},
      {"d":"2021-04-30","a":1770.7,"b":1763.1},
      {"d":"2021-05-07","a":1792.5,"b":1778.7},
      {"d":"2021-05-14","a":1817.3,"b":1799.5},
      {"d":"2021-05-21","a":1853.2,"b":1828.6},
      {"d":"2021-05-28","a":1880.6,"b":1855},
      {"d":"2021-06-04","a":1888.7,"b":1870.5},
      {"d":"2021-06-11","a":1889.2,"b":1878.2},
      {"d":"2021-06-18","a":1834.9,"b":1851},
      {"d":"2021-06-25","a":1799.5,"b":1822.6},
      {"d":"2021-07-02","a":1784.7,"b":1804},
      {"d":"2021-07-09","a":1795.5,"b":1802.8},
      {"d":"2021-07-16","a":1808.9,"b":1808.1},
      {"d":"2021-07-23","a":1806.8,"b":1807.4},
      {"d":"2021-07-30","a":1812.4,"b":1810.2},
      {"d":"2021-08-06","a":1801.9,"b":1805.5},
      {"d":"2021-08-13","a":1771.5,"b":1784.1},
      {"d":"2021-08-20","a":1779.3,"b":1784.2},
      {"d":"2021-08-27","a":1794,"b":1791.1},
      {"d":"2021-09-03","a":1808.2,"b":1800.7},
      {"d":"2021-09-10","a":1799.7,"b":1798.8},
      {"d":"2021-09-17","a":1783.9,"b":1790.4},
      {"d":"2021-09-24","a":1767.2,"b":1777.9},
      {"d":"2021-10-01","a":1755,"b":1765.6},
      {"d":"2021-10-08","a":1758.2,"b":1763.5},
      {"d":"2021-10-15","a":1769.6,"b":1768.1},
      {"d":"2021-10-22","a":1776.8,"b":1772.7},
      {"d":"2021-10-29","a":1787.9,"b":1781.5},
      {"d":"2021-11-05","a":1792.2,"b":1786.2},
      {"d":"2021-11-12","a":1829.2,"b":1810.7},
      {"d":"2021-11-19","a":1846.6,"b":1829.1},
      {"d":"2021-11-26","a":1812.2,"b":1814.7},
      {"d":"2021-12-03","a":1790.5,"b":1800.2},
      {"d":"2021-12-10","a":1784.4,"b":1792.6},
      {"d":"2021-12-17","a":1787.9,"b":1791},
      {"d":"2021-12-24","a":1797.4,"b":1795.1},
      {"d":"2021-12-31","a":1808.5,"b":1802.5},
      {"d":"2022-01-07","a":1803.5,"b":1802},
      {"d":"2022-01-14","a":1813.1,"b":1808.2},
      {"d":"2022-01-21","a":1825.1,"b":1817.2},
      {"d":"2022-01-28","a":1817.6,"b":1816.9},
      {"d":"2022-02-04","a":1809.1,"b":1811.6},
      {"d":"2022-02-11","a":1826.4,"b":1820.7},
      {"d":"2022-02-18","a":1861.5,"b":1844},
      {"d":"2022-02-25","a":1885.7,"b":1866.3},
      {"d":"2022-03-04","a":1920.3,"b":1894.6},
      {"d":"2022-03-11","a":1972.4,"b":1937.8},
      {"d":"2022-03-18","a":1946.2,"b":1935.3},
      {"d":"2022-03-25","a":1946.5,"b":1939.1},
      {"d":"2022-04-01","a":1935.2,"b":1934.7},
      {"d":"2022-04-08","a":1933.7,"b":1933.6},
      {"d":"2022-04-14","a":1952.3,"b":1945.2},
      {"d":"2022-04-22","a":1951,"b":1947.9},
      {"d":"2022-04-29","a":1916,"b":1927.4},
      {"d":"2022-05-06","a":1890.9,"b":1907},
      {"d":"2022-05-13","a":1853.2,"b":1877.9},
      {"d":"2022-05-20","a":1839.3,"b":1859},
      {"d":"2022-05-27","a":1848.7,"b":1857.3},
      {"d":"2022-06-03","a":1851.3,"b":1855.3},
      {"d":"2022-06-10","a":1853.9,"b":1854.7},
      {"d":"2022-06-17","a":1842.3,"b":1846.4},
      {"d":"2022-06-24","a":1834.7,"b":1840.4},
      {"d":"2022-07-01","a":1821.7,"b":1830.4},
      {"d":"2022-07-08","a":1778.2,"b":1800.9},
      {"d":"2022-07-15","a":1741.3,"b":1769.5},
      {"d":"2022-07-22","a":1724.1,"b":1747.2},
      {"d":"2022-07-29","a":1736.4,"b":1744.7},
      {"d":"2022-08-05","a":1760.3,"b":1756.1},
      {"d":"2022-08-12","a":1781.8,"b":1770.9},
      {"d":"2022-08-19","a":1768.5,"b":1767.6},
      {"d":"2022-08-26","a":1754.4,"b":1759.3},
      {"d":"2022-09-02","a":1728.5,"b":1741.8},
      {"d":"2022-09-09","a":1717.6,"b":1729.6},
      {"d":"2022-09-16","a":1698.5,"b":1714},
      {"d":"2022-09-23","a":1675.9,"b":1694.2},
      {"d":"2022-09-30","a":1660,"b":1676.3},
      {"d":"2022-10-07","a":1690.6,"b":1689.1},
      {"d":"2022-10-14","a":1672.1,"b":1678.7},
      {"d":"2022-10-21","a":1653.7,"b":1664.6},
      {"d":"2022-10-28","a":1654.1,"b":1660.8},
      {"d":"2022-11-04","a":1650.7,"b":1655.2},
      {"d":"2022-11-11","a":1703,"b":1684.2},
      {"d":"2022-11-18","a":1741.9,"b":1716.3},
      {"d":"2022-11-25","a":1746.4,"b":1728.8},
      {"d":"2022-12-02","a":1766.4,"b":1747.1},
      {"d":"2022-12-09","a":1778.3,"b":1761.3},
      {"d":"2022-12-16","a":1787.6,"b":1773.9},
      {"d":"2022-12-23","a":1796.4,"b":1784.7},
      {"d":"2022-12-30","a":1807,"b":1795.5},
      {"d":"2023-01-06","a":1832.2,"b":1815.1},
      {"d":"2023-01-13","a":1874,"b":1848}
    ],
    "rsi": [
      {"d":"2021-02-10","r":45},{"d":"2021-02-12","r":41},{"d":"2021-02-16","r":36},{"d":"2021-02-18","r":33},
      {"d":"2021-02-22","r":42},{"d":"2021-02-24","r":39},{"d":"2021-02-26","r":31},{"d":"2021-03-02","r":33},
      {"d":"2021-03-04","r":28},{"d":"2021-03-08","r":25},{"d":"2021-03-10","r":36},{"d":"2021-03-12","r":36},
      {"d":"2021-03-15","r":40},{"d":"2021-03-17","r":45},{"d":"2021-03-19","r":45},{"d":"2021-03-23","r":42},
      {"d":"2021-03-26","r":43},{"d":"2021-03-30","r":34},{"d":"2021-04-01","r":46},{"d":"2021-04-06","r":50},
      {"d":"2021-04-08","r":54},{"d":"2021-04-12","r":49},{"d":"2021-04-16","r":60},{"d":"2021-04-21","r":63},
      {"d":"2021-04-23","r":59},{"d":"2021-04-27","r":58},{"d":"2021-04-30","r":56},{"d":"2021-05-03","r":62},
      {"d":"2021-05-05","r":60},{"d":"2021-05-07","r":69},{"d":"2021-05-12","r":64},{"d":"2021-05-14","r":68},
      {"d":"2021-05-18","r":73},{"d":"2021-05-21","r":74},{"d":"2021-05-26","r":76},{"d":"2021-05-28","r":76},
      {"d":"2021-06-01","r":77},{"d":"2021-06-02","r":78},{"d":"2021-06-03","r":64},{"d":"2021-06-07","r":66},
      {"d":"2021-06-09","r":63},{"d":"2021-06-11","r":58},{"d":"2021-06-15","r":53},{"d":"2021-06-16","r":40},
      {"d":"2021-06-18","r":30},{"d":"2021-06-22","r":35},{"d":"2021-06-25","r":37},{"d":"2021-06-29","r":33},
      {"d":"2021-07-02","r":43},{"d":"2021-07-07","r":48},{"d":"2021-07-09","r":50},{"d":"2021-07-15","r":57},
      {"d":"2021-07-19","r":51},{"d":"2021-07-23","r":49},{"d":"2021-07-27","r":46},{"d":"2021-07-29","r":56},
      {"d":"2021-08-03","r":53},{"d":"2021-08-05","r":49},{"d":"2021-08-06","r":38},{"d":"2021-08-09","r":26},
      {"d":"2021-08-11","r":38},{"d":"2021-08-13","r":48},{"d":"2021-08-18","r":51},{"d":"2021-08-20","r":50},
      {"d":"2021-08-24","r":56},{"d":"2021-08-26","r":53},{"d":"2021-08-27","r":59},{"d":"2021-09-01","r":59},
      {"d":"2021-09-03","r":61},{"d":"2021-09-07","r":50},{"d":"2021-09-10","r":47},{"d":"2021-09-14","r":52},
      {"d":"2021-09-16","r":39},{"d":"2021-09-21","r":46},{"d":"2021-09-23","r":38},{"d":"2021-09-29","r":34},
      {"d":"2021-09-30","r":45},{"d":"2021-10-05","r":48},{"d":"2021-10-08","r":47},{"d":"2021-10-13","r":57},
      {"d":"2021-10-15","r":49},{"d":"2021-10-20","r":54},{"d":"2021-10-22","r":57},{"d":"2021-10-25","r":60},
      {"d":"2021-10-29","r":52},{"d":"2021-11-03","r":48},{"d":"2021-11-05","r":60},{"d":"2021-11-10","r":66},
      {"d":"2021-11-12","r":70},{"d":"2021-11-16","r":66},{"d":"2021-11-17","r":69},{"d":"2021-11-19","r":61},
      {"d":"2021-11-22","r":46},{"d":"2021-11-24","r":43},{"d":"2021-11-26","r":44},{"d":"2021-11-30","r":40},
      {"d":"2021-12-02","r":39},{"d":"2021-12-06","r":43},{"d":"2021-12-10","r":44},{"d":"2021-12-15","r":44},
      {"d":"2021-12-17","r":53},{"d":"2021-12-21","r":50},{"d":"2021-12-24","r":54},{"d":"2021-12-29","r":53},
      {"d":"2021-12-31","r":59},{"d":"2022-01-03","r":47},{"d":"2022-01-06","r":43},{"d":"2022-01-11","r":55},
      {"d":"2022-01-13","r":54},{"d":"2022-01-18","r":52},{"d":"2022-01-19","r":61},{"d":"2022-01-25","r":62},
      {"d":"2022-01-27","r":48},{"d":"2022-01-28","r":45},{"d":"2022-02-02","r":50},{"d":"2022-02-04","r":51},
      {"d":"2022-02-08","r":56},{"d":"2022-02-11","r":64},{"d":"2022-02-15","r":62},{"d":"2022-02-18","r":70},
      {"d":"2022-02-23","r":71},{"d":"2022-02-25","r":66},{"d":"2022-03-01","r":73},{"d":"2022-03-04","r":76},
      {"d":"2022-03-08","r":83},{"d":"2022-03-09","r":70},{"d":"2022-03-11","r":68},{"d":"2022-03-15","r":56},
      {"d":"2022-03-18","r":55},{"d":"2022-03-24","r":60},{"d":"2022-03-29","r":54},{"d":"2022-04-01","r":55},
      {"d":"2022-04-05","r":54},{"d":"2022-04-08","r":58},{"d":"2022-04-13","r":64},{"d":"2022-04-18","r":63},
      {"d":"2022-04-19","r":57},{"d":"2022-04-22","r":51},{"d":"2022-04-25","r":43},{"d":"2022-04-29","r":44},
      {"d":"2022-05-02","r":39},{"d":"2022-05-05","r":43},{"d":"2022-05-09","r":39},{"d":"2022-05-12","r":33},
      {"d":"2022-05-16","r":36},{"d":"2022-05-18","r":34},{"d":"2022-05-20","r":44},{"d":"2022-05-24","r":49},
      {"d":"2022-05-27","r":48},{"d":"2022-05-31","r":45},{"d":"2022-06-02","r":53},{"d":"2022-06-08","r":50},
      {"d":"2022-06-10","r":56},{"d":"2022-06-13","r":44},{"d":"2022-06-14","r":42},{"d":"2022-06-16","r":52},
      {"d":"2022-06-21","r":47},{"d":"2022-06-24","r":45},{"d":"2022-06-30","r":41},{"d":"2022-07-05","r":30},
      {"d":"2022-07-08","r":29},{"d":"2022-07-12","r":27},{"d":"2022-07-15","r":25},{"d":"2022-07-20","r":24},
      {"d":"2022-07-22","r":34},{"d":"2022-07-26","r":33},{"d":"2022-07-28","r":45},{"d":"2022-08-01","r":50},
      {"d":"2022-08-02","r":46},{"d":"2022-08-04","r":54},{"d":"2022-08-10","r":56},{"d":"2022-08-12","r":59},
      {"d":"2022-08-15","r":50},{"d":"2022-08-19","r":43},{"d":"2022-08-22","r":40},{"d":"2022-08-25","r":45},
      {"d":"2022-08-29","r":41},{"d":"2022-09-01","r":35},{"d":"2022-09-07","r":43},{"d":"2022-09-09","r":43},
      {"d":"2022-09-12","r":47},{"d":"2022-09-15","r":35},{"d":"2022-09-20","r":34},{"d":"2022-09-22","r":35},
      {"d":"2022-09-26","r":27},{"d":"2022-09-28","r":40},{"d":"2022-10-04","r":57},{"d":"2022-10-07","r":50},
      {"d":"2022-10-11","r":42},{"d":"2022-10-13","r":43},{"d":"2022-10-14","r":39},{"d":"2022-10-20","r":37},
      {"d":"2022-10-21","r":46},{"d":"2022-10-26","r":48},{"d":"2022-10-28","r":43},{"d":"2022-11-03","r":40},
      {"d":"2022-11-04","r":53},{"d":"2022-11-08","r":59},{"d":"2022-11-10","r":67},{"d":"2022-11-15","r":70},
      {"d":"2022-11-18","r":62},{"d":"2022-11-21","r":58},{"d":"2022-11-24","r":61},{"d":"2022-11-28","r":58},
      {"d":"2022-12-01","r":67},{"d":"2022-12-05","r":59},{"d":"2022-12-09","r":63},{"d":"2022-12-13","r":66},
      {"d":"2022-12-15","r":58},{"d":"2022-12-20","r":64},{"d":"2022-12-22","r":59},{"d":"2022-12-27","r":63},
      {"d":"2022-12-30","r":65},{"d":"2023-01-04","r":68},{"d":"2023-01-05","r":63},{"d":"2023-01-06","r":70},
      {"d":"2023-01-10","r":72},{"d":"2023-01-12","r":74},{"d":"2023-01-13","r":77}
    ]
  },
  "vconcat": [
    {
      "width": 1247,
      "height": 512,
      "layer": [
        {
          "data": {"name": "px"},
          "mark": {"type": "rule", "strokeWidth": 1},
          "encoding": {
            "x": {
              "field": "d", "type": "temporal",
              "scale": {"domain": [{"year": 2021, "month": 2, "date": 9, "hours": 10}, {"year": 2023, "month": 4, "date": 13, "hours": 10}], "nice": false},
              "axis": {"values": [{"year": 2022, "month": 1, "date": 1}, {"year": 2023, "month": 1, "date": 1}], "grid": true, "gridColor": "#dadada", "labels": false, "ticks": false, "domain": false, "title": null, "tickCount": 40}
            },
            "y": {
              "field": "l", "type": "quantitative",
              "scale": {"domain": [1611.9, 2072.6], "nice": false, "zero": false},
              "axis": {"orient": "right", "values": [1620, 1640, 1660, 1680, 1700, 1720, 1740, 1760, 1780, 1800, 1820, 1840, 1860, 1880, 1900, 1940, 1960, 1980, 2000, 2020, 2040, 2060], "tickCount": 40, "format": ",.4f", "grid": true, "title": null, "labelPadding": 5, "labelOverlap": false}
            },
            "y2": {"field": "h"},
            "color": {"condition": {"test": "datum.c >= datum.o", "value": "#348a73"}, "value": "#d9584a"}
          }
        },
        {
          "data": {"values": [{}]},
          "mark": {"type": "text", "font": "DejaVu Sans Condensed", "fontWeight": "bold", "fontSize": 22, "align": "right", "baseline": "alphabetic", "color": "#9d9d9d"},
          "encoding": {
            "x": {"datum": {"year": 2021, "month": 3, "date": 5, "hours": 15}, "type": "temporal", "title": null},
            "y": {"datum": 1630.8, "type": "quantitative", "title": null},
            "text": {"value": "FX"}
          }
        },
        {
          "data": {"values": [{}]},
          "mark": {"type": "text", "font": "DejaVu Sans Condensed", "fontWeight": "bold", "fontSize": 22, "align": "left", "baseline": "alphabetic", "color": "#f1c38f"},
          "encoding": {
            "x": {"datum": {"year": 2021, "month": 3, "date": 5, "hours": 15}, "type": "temporal", "title": null},
            "y": {"datum": 1630.8, "type": "quantitative", "title": null},
            "text": {"value": "STREET"}
          }
        },
        {
          "data": {"name": "fib"},
          "mark": {"type": "rule", "color": "#000000", "strokeWidth": 1},
          "encoding": {
            "x": {"datum": {"year": 2022, "month": 1, "date": 14, "hours": 10}, "type": "temporal", "title": null},
            "x2": {"datum": {"year": 2023, "month": 4, "date": 13, "hours": 10}},
            "y": {"field": "p", "type": "quantitative", "title": null}
          }
        },
        {
          "data": {"values": [{}]},
          "mark": {"type": "rule", "color": "#3b4c6e", "strokeWidth": 1},
          "encoding": {
            "y": {"datum": 1920.04, "type": "quantitative", "title": null}
          }
        },
        {
          "data": {"name": "px"},
          "mark": {"type": "rule", "strokeWidth": 1},
          "encoding": {
            "x": {"field": "d", "type": "temporal", "title": null},
            "y": {"field": "l", "type": "quantitative", "title": null},
            "y2": {"field": "h"},
            "color": {"condition": {"test": "datum.c >= datum.o", "value": "#348a73"}, "value": "#d9584a"}
          }
        },
        {
          "data": {"name": "px"},
          "mark": {"type": "bar", "size": 1.6},
          "encoding": {
            "x": {"field": "d", "type": "temporal", "title": null},
            "y": {"field": "o", "type": "quantitative", "title": null},
            "y2": {"field": "c"},
            "color": {"condition": {"test": "datum.c >= datum.o", "value": "#348a73"}, "value": "#d9584a"}
          }
        },
        {
          "data": {"name": "ema"},
          "mark": {"type": "line", "color": "#f07a22", "strokeWidth": 1.2, "interpolate": "monotone"},
          "encoding": {
            "x": {"field": "d", "type": "temporal", "title": null},
            "y": {"field": "b", "type": "quantitative", "title": null}
          }
        },
        {
          "data": {"name": "ema"},
          "mark": {"type": "line", "color": "#b3a51c", "strokeWidth": 1.2, "interpolate": "monotone"},
          "encoding": {
            "x": {"field": "d", "type": "temporal", "title": null},
            "y": {"field": "a", "type": "quantitative", "title": null}
          }
        },
        {
          "data": {"name": "fib"},
          "transform": [{"filter": "datum.t != ''"}],
          "mark": {"type": "text", "align": "left", "baseline": "bottom", "dy": -1, "fontSize": 11, "color": "#333333"},
          "encoding": {
            "x": {"datum": {"year": 2022, "month": 1, "date": 14, "hours": 10}, "type": "temporal", "title": null},
            "y": {"field": "p", "type": "quantitative", "title": null},
            "text": {"field": "t"}
          }
        },
        {
          "data": {"values": [{}]},
          "mark": {"type": "rect", "color": "#5e5e5e", "opacity": 0.96},
          "encoding": {
            "x": {"datum": {"year": 2021, "month": 2, "date": 12, "hours": 14}, "type": "temporal", "title": null},
            "x2": {"datum": {"year": 2021, "month": 4, "date": 3, "hours": 20}},
            "y": {"datum": 2068.1, "type": "quantitative", "title": null},
            "y2": {"datum": 2048.3}
          }
        },
        {
          "data": {"values": [{}]},
          "mark": {"type": "rect", "color": "#5e5e5e", "opacity": 0.96},
          "encoding": {
            "x": {"datum": {"year": 2021, "month": 2, "date": 12, "hours": 14}, "type": "temporal", "title": null},
            "x2": {"datum": {"year": 2021, "month": 4, "date": 7, "hours": 15}},
            "y": {"datum": 2043.8, "type": "quantitative", "title": null},
            "y2": {"datum": 2024.0}
          }
        },
        {
          "data": {"values": [{}]},
          "mark": {"type": "rect", "color": "#5e5e5e", "opacity": 0.96},
          "encoding": {
            "x": {"datum": {"year": 2021, "month": 2, "date": 12, "hours": 14}, "type": "temporal", "title": null},
            "x2": {"datum": {"year": 2021, "month": 4, "date": 7, "hours": 15}},
            "y": {"datum": 2019.5, "type": "quantitative", "title": null},
            "y2": {"datum": 1999.7}
          }
        },
        {
          "data": {"values": [{}]},
          "mark": {"type": "rect", "color": "#2e8b72"},
          "encoding": {
            "x": {"datum": {"year": 2021, "month": 2, "date": 12, "hours": 14}, "type": "temporal", "title": null},
            "x2": {"datum": {"year": 2021, "month": 2, "date": 14, "hours": 12}},
            "y": {"datum": 2068.1, "type": "quantitative", "title": null},
            "y2": {"datum": 2048.3}
          }
        },
        {
          "data": {"values": [{}]},
          "mark": {"type": "rect", "color": "#e8640c"},
          "encoding": {
            "x": {"datum": {"year": 2021, "month": 2, "date": 12, "hours": 14}, "type": "temporal", "title": null},
            "x2": {"datum": {"year": 2021, "month": 2, "date": 14, "hours": 12}},
            "y": {"datum": 2043.8, "type": "quantitative", "title": null},
            "y2": {"datum": 2024.0}
          }
        },
        {
          "data": {"values": [{}]},
          "mark": {"type": "rect", "color": "#a89a06"},
          "encoding": {
            "x": {"datum": {"year": 2021, "month": 2, "date": 12, "hours": 14}, "type": "temporal", "title": null},
            "x2": {"datum": {"year": 2021, "month": 2, "date": 14, "hours": 12}},
            "y": {"datum": 2019.5, "type": "quantitative", "title": null},
            "y2": {"datum": 1999.7}
          }
        },
        {
          "data": {"values": [{}]},
          "mark": {"type": "text", "align": "left", "baseline": "middle", "fontSize": 11, "fontWeight": "bold", "color": "#f0f0f0"},
          "encoding": {
            "x": {"datum": {"year": 2021, "month": 2, "date": 20, "hours": 5}, "type": "temporal", "title": null},
            "y": {"datum": 2058.2, "type": "quantitative", "title": null},
            "text": {"value": "XAU/USD"}
          }
        },
        {
          "data": {"values": [{}]},
          "mark": {"type": "text", "align": "left", "baseline": "middle", "fontSize": 11, "fontWeight": "bold", "color": "#f0f0f0"},
          "encoding": {
            "x": {"datum": {"year": 2021, "month": 2, "date": 20, "hours": 5}, "type": "temporal", "title": null},
            "y": {"datum": 2033.9, "type": "quantitative", "title": null},
            "text": {"value": "EMA (20,0)"}
          }
        },
        {
          "data": {"values": [{}]},
          "mark": {"type": "text", "align": "left", "baseline": "middle", "fontSize": 11, "fontWeight": "bold", "color": "#f0f0f0"},
          "encoding": {
            "x": {"datum": {"year": 2021, "month": 2, "date": 20, "hours": 5}, "type": "temporal", "title": null},
            "y": {"datum": 2009.6, "type": "quantitative", "title": null},
            "text": {"value": "EMA (10,0)"}
          }
        },
        {
          "data": {"values": [{}]},
          "mark": {"type": "rect", "color": "#2d4470"},
          "encoding": {
            "x": {"datum": {"year": 2023, "month": 4, "date": 15, "hours": 8}, "type": "temporal", "title": null},
            "x2": {"datum": {"year": 2023, "month": 5, "date": 26, "hours": 1}},
            "y": {"datum": 1926.2, "type": "quantitative", "title": null},
            "y2": {"datum": 1912.4}
          }
        },
        {
          "data": {"values": [{}]},
          "mark": {"type": "point", "shape": "triangle-left", "filled": true, "size": 30, "color": "#2d4470", "opacity": 1},
          "encoding": {
            "x": {"datum": {"year": 2023, "month": 4, "date": 14, "hours": 20}, "type": "temporal", "title": null},
            "y": {"datum": 1920.04, "type": "quantitative", "title": null}
          }
        },
        {
          "data": {"values": [{}]},
          "mark": {"type": "text", "align": "center", "baseline": "middle", "fontSize": 11, "fontWeight": "bold", "color": "#ffffff"},
          "encoding": {
            "x": {"datum": {"year": 2023, "month": 5, "date": 6, "hours": 8}, "type": "temporal", "title": null},
            "y": {"datum": 1920.04, "type": "quantitative", "title": null},
            "text": {"value": "1,920.0400"}
          }
        }
      ]
    },
    {
      "width": 1247,
      "height": 69,
      "layer": [
        {
          "data": {"name": "rsi"},
          "mark": {"type": "line", "color": "#2a46ee", "strokeWidth": 1, "opacity": 0},
          "encoding": {
            "x": {
              "field": "d", "type": "temporal",
              "scale": {"domain": [{"year": 2021, "month": 2, "date": 9, "hours": 10}, {"year": 2023, "month": 4, "date": 13, "hours": 10}], "nice": false},
              "axis": {
                "values": [
                  {"year": 2021, "month": 2, "date": 13, "hours": 6},
                  {"year": 2021, "month": 3, "date": 1}, {"year": 2021, "month": 4, "date": 1}, {"year": 2021, "month": 5, "date": 1},
                  {"year": 2021, "month": 6, "date": 1}, {"year": 2021, "month": 7, "date": 1}, {"year": 2021, "month": 8, "date": 1},
                  {"year": 2021, "month": 9, "date": 1}, {"year": 2021, "month": 10, "date": 1}, {"year": 2021, "month": 11, "date": 1},
                  {"year": 2021, "month": 12, "date": 1}, {"year": 2022, "month": 1, "date": 1}, {"year": 2022, "month": 2, "date": 1},
                  {"year": 2022, "month": 3, "date": 1}, {"year": 2022, "month": 4, "date": 1}, {"year": 2022, "month": 5, "date": 1},
                  {"year": 2022, "month": 6, "date": 1}, {"year": 2022, "month": 7, "date": 1}, {"year": 2022, "month": 8, "date": 1},
                  {"year": 2022, "month": 9, "date": 1}, {"year": 2022, "month": 10, "date": 1}, {"year": 2022, "month": 11, "date": 1},
                  {"year": 2022, "month": 12, "date": 1}, {"year": 2023, "month": 1, "date": 1}, {"year": 2023, "month": 2, "date": 1},
                  {"year": 2023, "month": 3, "date": 1}, {"year": 2023, "month": 4, "date": 1}
                ],
                "tickCount": 40,
                "labelExpr": "date(datum.value) > 1 ? \"'21\" : (month(datum.value) == 0 ? \"'\" + timeFormat(datum.value, '%y') : timeFormat(datum.value, '%b'))",
                "labelFlush": false,
                "labelOverlap": false,
                "labelPadding": 4,
                "tickOpacity": {"condition": {"test": "date(datum.value) > 1", "value": 0}, "value": 1},
                "grid": true,
                "gridColor": "#dadada",
                "gridOpacity": {"condition": {"test": "month(datum.value) == 0 && date(datum.value) == 1", "value": 1}, "value": 0},
                "title": null
              }
            },
            "y": {
              "field": "r", "type": "quantitative",
              "scale": {"domain": [-3.5, 102], "nice": false, "zero": false},
              "axis": {"orient": "right", "values": [0, 50], "format": ".4f", "grid": true, "title": null, "labelPadding": 5, "labelOverlap": false}
            }
          }
        },
        {
          "data": {"values": [{}]},
          "mark": {"type": "rect", "color": "#7efb7e"},
          "encoding": {
            "x": {"datum": {"year": 2021, "month": 2, "date": 9, "hours": 10}, "type": "temporal", "title": null},
            "x2": {"datum": {"year": 2023, "month": 1, "date": 15}},
            "y": {"datum": 60, "type": "quantitative", "title": null},
            "y2": {"datum": 100}
          }
        },
        {
          "data": {"values": [{}]},
          "mark": {"type": "rect", "color": "#fb7e7e"},
          "encoding": {
            "x": {"datum": {"year": 2021, "month": 2, "date": 9, "hours": 10}, "type": "temporal", "title": null},
            "x2": {"datum": {"year": 2023, "month": 1, "date": 15}},
            "y": {"datum": 0, "type": "quantitative", "title": null},
            "y2": {"datum": 40}
          }
        },
        {
          "data": {"values": [{}]},
          "mark": {"type": "rule", "color": "#000000", "strokeWidth": 1, "strokeDash": [2, 2]},
          "encoding": {
            "x": {"datum": {"year": 2021, "month": 2, "date": 9, "hours": 10}, "type": "temporal", "title": null},
            "x2": {"datum": {"year": 2023, "month": 1, "date": 15}},
            "y": {"datum": 60, "type": "quantitative", "title": null}
          }
        },
        {
          "data": {"values": [{}]},
          "mark": {"type": "rule", "color": "#000000", "strokeWidth": 1, "strokeDash": [2, 2]},
          "encoding": {
            "x": {"datum": {"year": 2021, "month": 2, "date": 9, "hours": 10}, "type": "temporal", "title": null},
            "x2": {"datum": {"year": 2023, "month": 1, "date": 15}},
            "y": {"datum": 40, "type": "quantitative", "title": null}
          }
        },
        {
          "data": {"values": [{}]},
          "mark": {"type": "rule", "color": "#000000", "strokeWidth": 1},
          "encoding": {
            "x": {"datum": {"year": 2023, "month": 1, "date": 15}, "type": "temporal", "title": null},
            "y": {"datum": 0, "type": "quantitative", "title": null},
            "y2": {"datum": 40}
          }
        },
        {
          "data": {"values": [{}]},
          "mark": {"type": "rule", "color": "#000000", "strokeWidth": 1},
          "encoding": {
            "x": {"datum": {"year": 2023, "month": 1, "date": 15}, "type": "temporal", "title": null},
            "y": {"datum": 60, "type": "quantitative", "title": null},
            "y2": {"datum": 100}
          }
        },
        {
          "data": {"values": [{}]},
          "mark": {"type": "rule", "color": "#000000", "strokeWidth": 1.5},
          "encoding": {
            "x": {"datum": {"year": 2021, "month": 2, "date": 9, "hours": 12}, "type": "temporal", "title": null},
            "y": {"datum": 0, "type": "quantitative", "title": null},
            "y2": {"datum": 40}
          }
        },
        {
          "data": {"name": "rsi"},
          "mark": {"type": "line", "color": "#2a46ee", "strokeWidth": 1},
          "encoding": {
            "x": {"field": "d", "type": "temporal", "title": null},
            "y": {"field": "r", "type": "quantitative", "title": null}
          }
        },
        {
          "data": {"values": [{}]},
          "mark": {"type": "rect", "filled": false, "stroke": "#000000", "strokeWidth": 2.5},
          "encoding": {
            "x": {"datum": {"year": 2022, "month": 11, "date": 7}, "type": "temporal", "title": null},
            "x2": {"datum": {"year": 2023, "month": 1, "date": 18, "hours": 10}},
            "y": {"datum": 54, "type": "quantitative", "title": null},
            "y2": {"datum": 85.6}
          }
        },
        {
          "data": {"values": [{}]},
          "mark": {"type": "rect", "color": "#2f5e30"},
          "encoding": {
            "x": {"datum": {"year": 2021, "month": 2, "date": 12, "hours": 14}, "type": "temporal", "title": null},
            "x2": {"datum": {"year": 2021, "month": 4, "date": 24, "hours": 4}},
            "y": {"datum": 61.8, "type": "quantitative", "title": null},
            "y2": {"datum": 95.9}
          }
        },
        {
          "data": {"values": [{}]},
          "mark": {"type": "rect", "color": "#1fe31f"},
          "encoding": {
            "x": {"datum": {"year": 2021, "month": 2, "date": 12, "hours": 14}, "type": "temporal", "title": null},
            "x2": {"datum": {"year": 2021, "month": 2, "date": 14, "hours": 12}},
            "y": {"datum": 61.8, "type": "quantitative", "title": null},
            "y2": {"datum": 95.9}
          }
        },
        {
          "data": {"values": [{}]},
          "mark": {"type": "text", "align": "left", "baseline": "middle", "fontSize": 11, "fontWeight": "bold", "color": "#f2f2f2"},
          "encoding": {
            "x": {"datum": {"year": 2021, "month": 2, "date": 20, "hours": 5}, "type": "temporal", "title": null},
            "y": {"datum": 78.8, "type": "quantitative", "title": null},
            "text": {"value": "RSI (14,60,40,1)"}
          }
        }
      ]
    }
  ]
}
